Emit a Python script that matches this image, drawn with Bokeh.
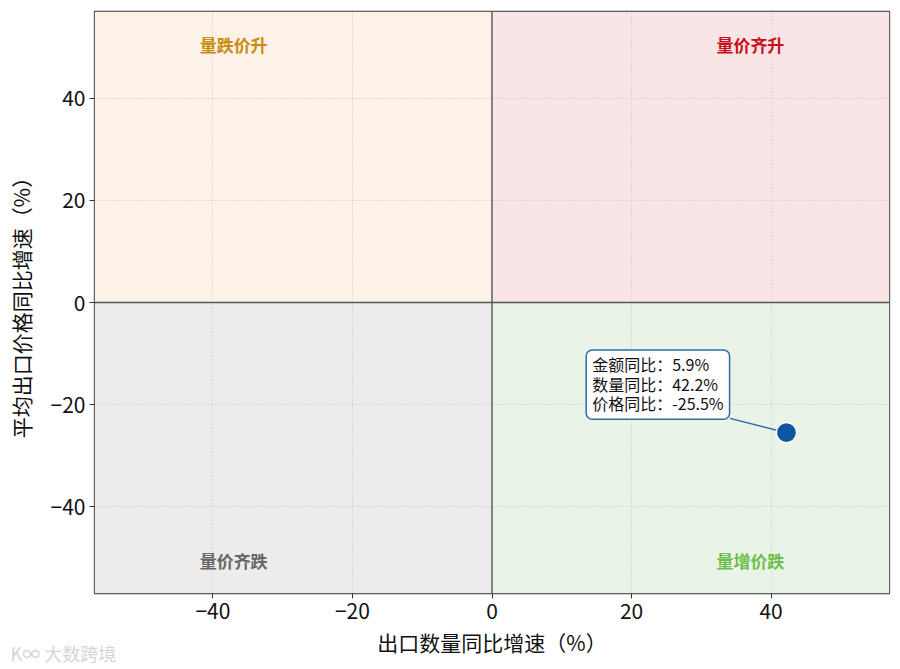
from bokeh.plotting import figure
from bokeh.models import BoxAnnotation, Label, Span, Range1d, FixedTicker, ColumnDataSource
from bokeh.core.properties import value
from bokeh.embed import file_html
from bokeh.resources import INLINE

# ---- data ----
amount_yoy = 5.9
qty_yoy = 42.2
price_yoy = -25.5
x_ticks = [-40, -20, 0, 20, 40]
y_ticks = [-40, -20, 0, 20, 40]
quad_names = ["量跌价升", "量价齐升", "量价齐跌", "量增价跌"]
quad_colors = ["#c98a10", "#c8101a", "#666666", "#6cc04a"]
x_title = "出口数量同比增速（%）"
y_title = "平均出口价格同比增速（%）"
watermark = "大数跨境"

FONT = "Noto Sans CJK SC"
lim_x = abs(qty_yoy) * 1.35
lim_y = 57.0

p = figure(width=892, height=661, frame_width=795, frame_height=582,
           output_backend="svg", toolbar_location=None,
           x_range=Range1d(-lim_x, lim_x), y_range=Range1d(-lim_y, lim_y),
           min_border_left=94, min_border_top=11, min_border_right=4, min_border_bottom=4)
p.background_fill_color = "white"
p.outline_line_color = "#333333"
p.outline_line_width = 1.3

# quadrants
for kw, col in ((dict(right=0, bottom=0), "#fdf2e7"), (dict(left=0, bottom=0), "#f9e5e5"),
                (dict(right=0, top=0), "#ececec"), (dict(left=0, top=0), "#eaf3e8")):
    p.add_layout(BoxAnnotation(**kw, fill_color=col, fill_alpha=1, line_alpha=0, level="image"))

# grid
for g in (p.xgrid, p.ygrid):
    g.grid_line_color = "#c4c4c4"
    g.grid_line_dash = "1 2"
    g.grid_line_width = 1
    g.grid_line_alpha = 1
    g.level = "underlay"
p.xaxis.ticker = FixedTicker(ticks=x_ticks)
p.yaxis.ticker = FixedTicker(ticks=y_ticks)
p.xgrid.ticker = FixedTicker(ticks=[t for t in x_ticks if t != 0])
p.ygrid.ticker = FixedTicker(ticks=[t for t in y_ticks if t != 0])

# center lines
p.add_layout(Span(location=0, dimension="height", line_color="#555555", line_width=1.4))
p.add_layout(Span(location=0, dimension="width", line_color="#555555", line_width=1.4))

# axes
for ax in (p.xaxis, p.yaxis):
    ax.major_label_text_font = FONT
    ax.major_label_text_font_size = "21px"
    ax.major_label_text_color = "#111111"
    ax.axis_label_text_font = FONT
    ax.axis_label_text_font_size = "21px"
    ax.axis_label_text_font_style = "normal"
    ax.axis_label_text_color = "#111111"
    ax.minor_tick_line_color = None
    ax.major_tick_out = 5
    ax.major_tick_in = 0
    ax.major_tick_line_color = "#333333"
    ax.axis_line_color = None
p.xaxis.major_label_overrides = {t: (str(t).replace("-", "−")) for t in x_ticks}
p.yaxis.major_label_overrides = {t: (str(t).replace("-", "−")) for t in y_ticks}
p.xaxis.axis_label = x_title
p.yaxis.axis_label = y_title
p.xaxis.axis_label_standoff = 5
p.yaxis.axis_label_standoff = 12
p.xaxis.major_label_standoff = 4
p.yaxis.major_label_standoff = 4

# quadrant labels
qx = [-0.65 * lim_x, 0.65 * lim_x, -0.65 * lim_x, 0.65 * lim_x]
qy = [0.885 * lim_y, 0.885 * lim_y, -0.885 * lim_y, -0.885 * lim_y]
src = ColumnDataSource(dict(x=qx, y=qy, t=quad_names, c=quad_colors))
p.text("x", "y", text="t", source=src, text_color="c", text_font=value(FONT),
       text_font_size="17px", text_font_style="bold", text_align="center", text_baseline="middle")

# connector from annotation to point
ann_x = qty_yoy - 8.1
ann_y = price_yoy + 2.8
p.segment(x0=[ann_x], y0=[ann_y], x1=[qty_yoy], y1=[price_yoy], line_color="#2e6da8", line_width=1.5)

# point
p.scatter([qty_yoy], [price_yoy], size=20, color="#0b57a4", line_color="white", line_width=1.2)

# annotation box
txt = f"金额同比：{amount_yoy:.1f}%\n数量同比：{qty_yoy:.1f}%\n价格同比：{price_yoy:.1f}%"
lab = Label(x=qty_yoy - 28.7, y=price_yoy + 16.2, x_units="data", y_units="data", text=txt,
            text_align="left", text_baseline="top", text_font=FONT, text_font_size="16px",
            text_color="#111111", text_line_height=0.82,
            background_fill_color="white", background_fill_alpha=1,
            border_line_color="#2e6da8", border_line_width=1.5,
            padding=dict(left=6, right=6, top=2, bottom=4), border_radius=6)
p.add_layout(lab)

# watermark (below the frame, at the page's lower-left corner)
wm = Label(x=-84, y=20, x_units="screen", y_units="screen", text="K∞ " + watermark,
           text_font=FONT, text_font_size="18px", text_color="#d0d0d0", text_alpha=0.9)
p.add_layout(wm, "below")

open("out.html", "w").write(file_html(p, INLINE))
